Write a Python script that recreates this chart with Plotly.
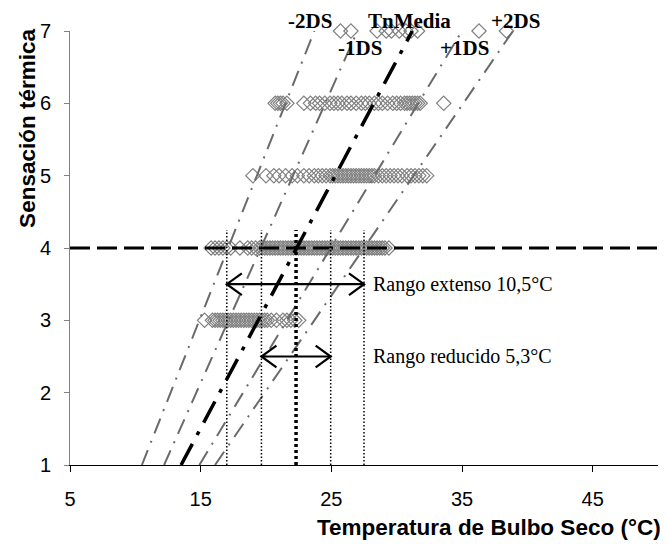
import plotly.graph_objects as go

# ---------------- data ----------------
sens7 = [25.7, 26.5, 28.5, 29.2, 29.6, 30.2, 30.7, 31.1, 31.6, 36.3, 38.4]
sens6 = [20.7, 20.9, 21.1, 21.3, 21.6, 22.9, 23.4, 23.8, 24.1, 24.5, 24.9, 25.2,
         25.5, 25.8, 26.2, 26.5, 26.9, 27.3, 27.6, 27.9, 28.3, 28.6, 28.9, 29.3,
         29.7, 30.0, 30.3, 30.6, 30.8, 31.0, 31.2, 31.4, 31.6, 31.8, 33.6]
sens5 = [19.0, 20.0, 20.6, 21.0, 21.5, 22.0, 22.4, 22.9, 23.3, 23.7, 24.0, 24.3,
         24.6, 24.9, 25.1, 25.3, 25.5, 25.7, 25.9, 26.1, 26.3, 26.5, 26.7, 26.9,
         27.1, 27.3, 27.5, 27.7, 27.9, 28.1, 28.3, 28.6, 28.9, 29.2, 29.5, 29.8,
         30.1, 30.4, 30.8, 31.1, 31.4, 31.7, 32.0, 32.3]
sens4 = [15.8, 16.1, 16.4, 16.7, 17.0, 17.3, 18.0, 18.6, 18.9, 19.2, 19.5, 19.7,
         19.9, 20.1, 20.3, 20.5, 20.7, 20.9, 21.1, 21.3, 21.5, 21.7, 21.9, 22.1,
         22.3, 22.5, 22.7, 22.9, 23.1, 23.3, 23.5, 23.7, 23.9, 24.1, 24.3, 24.5,
         24.7, 24.9, 25.1, 25.3, 25.5, 25.7, 25.9, 26.1, 26.3, 26.5, 26.7, 26.9,
         27.1, 27.3, 27.5, 27.7, 27.9, 28.1, 28.3, 28.5, 28.7, 28.9, 29.1, 29.4]
sens3 = [15.3, 15.9, 16.1, 16.3, 16.5, 16.7, 16.9, 17.1, 17.3, 17.5, 17.7, 17.9,
         18.1, 18.3, 18.5, 18.7, 18.9, 19.1, 19.3, 19.5, 19.7, 19.9, 20.1, 20.4,
         20.8, 21.3, 21.6, 21.9, 22.2, 22.5]
sens_rows = [(3, sens3), (4, sens4), (5, sens5), (6, sens6), (7, sens7)]

# regression lines (x at sensation 1 and 7)
line_y = [1, 7]
tn_media = [13.5, 31.2]
menos_1ds = [12.2, 27.0]
mas_1ds = [14.9, 35.0]
menos_2ds = [10.5, 23.7]
mas_2ds = [16.1, 38.9]

neutral = 4
x_range = [5, 50]
y_range = [1, 7]
x_ticks = [5, 15, 25, 35, 45]

# values at neutral sensation
lim_ext = [17.0, 27.5]      # -2DS, +2DS
lim_red = [19.65, 24.95]    # -1DS, +1DS
tn_neutral = 22.3
vline_top = 4.25
arrow_ext_y = 3.5
arrow_red_y = 2.5
label_ext = "Rango extenso 10,5°C"
label_red = "Rango reducido 5,3°C"

# ---------------- figure ----------------
fig = go.Figure()

for yv, xs in sens_rows:
    fig.add_trace(go.Scatter(
        x=xs, y=[yv] * len(xs), mode="markers", cliponaxis=False,
        marker=dict(symbol="diamond-open", size=11, color="#808080",
                    line=dict(width=1.2, color="#808080")),
        hoverinfo="skip"))

# horizontal neutral line
fig.add_trace(go.Scatter(x=x_range, y=[neutral, neutral], mode="lines",
                         line=dict(color="black", width=3, dash="20px,7px")))

# SD lines
for xs in (menos_2ds, mas_2ds, menos_1ds, mas_1ds):
    fig.add_trace(go.Scatter(x=xs, y=line_y, mode="lines",
                             line=dict(color="#6a6a6a", width=2,
                                       dash="16px,8px,2px,8px")))
# mean line
fig.add_trace(go.Scatter(x=tn_media, y=line_y, mode="lines",
                         line=dict(color="black", width=3.5,
                                   dash="24px,10px,4px,10px")))

# vertical dotted lines
for xv in lim_ext + lim_red:
    fig.add_trace(go.Scatter(x=[xv, xv], y=[y_range[0], vline_top], mode="lines",
                             line=dict(color="black", width=1.5, dash="1.5px,2px")))
fig.add_trace(go.Scatter(x=[tn_neutral, tn_neutral], y=[y_range[0], vline_top],
                         mode="lines",
                         line=dict(color="black", width=3.5, dash="3px,3px")))

# double arrows
ahx, ahy = 1.15, 0.15
for (x0, x1), ya in ((lim_ext, arrow_ext_y), (lim_red, arrow_red_y)):
    xs = [x0, x1, None,
          x0 + ahx, x0, x0 + ahx, None,
          x1 - ahx, x1, x1 - ahx]
    ys = [ya, ya, None,
          ya + ahy, ya, ya - ahy, None,
          ya + ahy, ya, ya - ahy]
    fig.add_trace(go.Scatter(x=xs, y=ys, mode="lines",
                             line=dict(color="black", width=2.2)))

serif = "Liberation Serif, Times New Roman, serif"
sans = "Liberation Sans, Arial, sans-serif"

ann = []
# labels above the plot area (paper y)
for txt, xv in (("-2DS", 23.4), ("TnMedia", 31.0), ("+2DS", 39.1)):
    ann.append(dict(text="<b>%s</b>" % txt, x=xv, y=1.023, xref="x", yref="paper",
                    showarrow=False, xanchor="center", yanchor="middle",
                    font=dict(family=serif, size=21, color="black")))
for txt, xv in (("-1DS", 27.2), ("+1DS", 35.2)):
    ann.append(dict(text="<b>%s</b>" % txt, x=xv, y=6.77, xref="x", yref="y",
                    showarrow=False, xanchor="center", yanchor="middle",
                    font=dict(family=serif, size=21, color="black")))
ann.append(dict(text=label_ext, x=28.0, y=arrow_ext_y, xref="x", yref="y",
                showarrow=False, xanchor="left", yanchor="middle",
                font=dict(family=serif, size=20, color="black")))
ann.append(dict(text=label_red, x=28.0, y=arrow_red_y, xref="x", yref="y",
                showarrow=False, xanchor="left", yanchor="middle",
                font=dict(family=serif, size=20, color="black")))
ann.append(dict(text="<b>Sensación térmica</b>", x=-0.072, y=0.776,
                xref="paper", yref="paper", textangle=-90, showarrow=False,
                xanchor="center", yanchor="middle",
                font=dict(family=sans, size=22.5, color="black")))
ann.append(dict(text="<b>Temperatura de Bulbo Seco (°C)</b>", x=1.008, y=-0.144,
                xref="paper", yref="paper", showarrow=False,
                xanchor="right", yanchor="middle",
                font=dict(family=sans, size=22.5, color="black")))

# the page body adds an 8px offset; margins compensate for it
fig.update_layout(
    width=668, height=544,
    margin=dict(l=62, r=18, t=20, b=87),
    paper_bgcolor="white", plot_bgcolor="white",
    showlegend=False,
    annotations=ann,
    xaxis=dict(range=x_range, tickvals=x_ticks, ticks="outside", ticklen=6,
               tickcolor="black", showline=True, linecolor="black", linewidth=1,
               showgrid=False, zeroline=False, ticklabelstandoff=10,
               tickfont=dict(family=sans, size=20, color="black")),
    yaxis=dict(range=y_range, dtick=1, ticks="outside", ticklen=5,
               tickcolor="#808080", showline=True, linecolor="#808080",
               linewidth=1, showgrid=False, zeroline=False, ticklabelstandoff=9,
               tickfont=dict(family=sans, size=20, color="black")),
)

fig.write_html("out.html")
